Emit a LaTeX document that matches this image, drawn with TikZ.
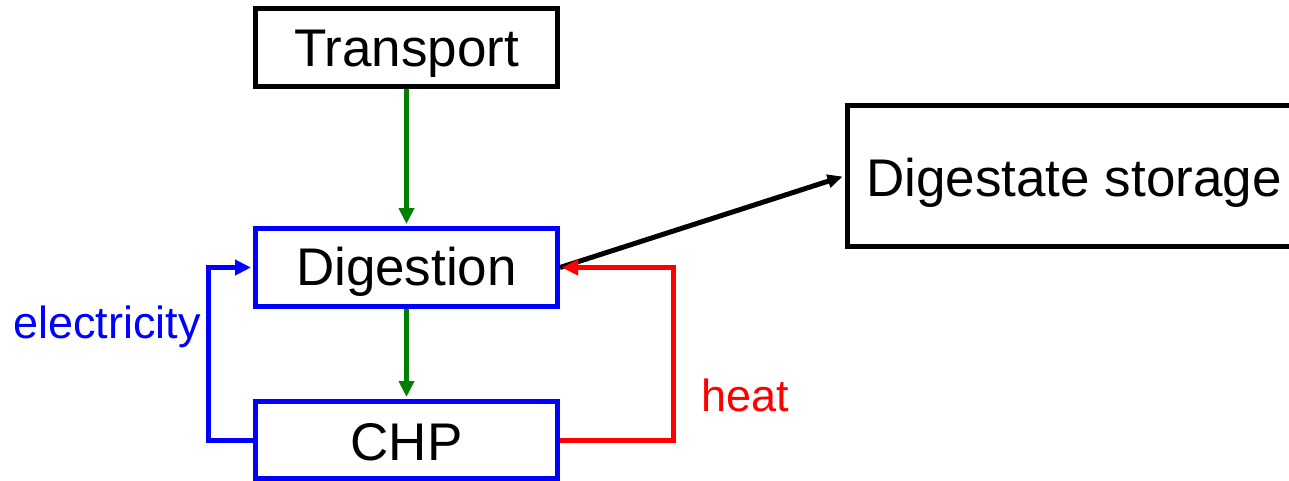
\documentclass[tikz,border=0pt]{standalone}
\usepackage{fontspec}
\setmainfont{Liberation Sans}
\usetikzlibrary{arrows.meta}
\definecolor{flowgreen}{RGB}{0,128,0}
\definecolor{loopblue}{RGB}{0,0,255}
\definecolor{loopred}{RGB}{255,0,0}
\tikzset{
  box/.style={draw, line width=5pt, inner sep=0pt, anchor=base,
    font=\fontsize{53}{60}\selectfont},
  flow/.style={line width=5pt, -{Triangle[length=16pt,width=15pt]}, shorten >=2pt},
  lbl/.style={inner sep=0pt, anchor=base west, font=\fontsize{45}{50}\selectfont}
}
\begin{document}
\begin{tikzpicture}[x=1pt,y=-1pt]
\clip (0,0) rectangle (1289,481);
\fill[white] (0,0) rectangle (1289,481);

% process boxes (text baseline given as position)
\node[box, minimum width=302pt, text height=58pt, text depth=19.5pt]
  (transport) at (406.5,67) {Transport};
\node[box, draw=loopblue, minimum width=302pt, text height=56.5pt, text depth=21.5pt]
  (digestion) at (406.5,285) {Digestion};
\node[box, draw=loopblue, minimum width=302pt, text height=59pt, text depth=18pt]
  (chp) at (406.5,460.5) {CHP};
\node[box, minimum width=454pt, text height=91pt, text depth=49.5pt]
  (storage) at (1074,196.7) {Digestate storage};

% material flow
\draw[flow, flowgreen] (transport.south) -- (digestion.north);
\draw[flow, flowgreen] (digestion.south) -- (chp.north);
\draw[flow, black, -{Triangle[length=15pt,width=13pt]}] (digestion.east) -- (storage.west);

% energy loops
\coordinate (elbow) at (208.5,440);
\coordinate (helbow) at (673.5,440);
\draw[flow, loopblue] (chp.west) -- (elbow) |- (digestion.west);
\draw[flow, loopred] (chp.east) -- (helbow) |- (digestion.east);

% loop labels
\node[lbl, text=loopblue] (elec) at (13,338) {electricity};
\node[lbl, text=loopred] (heat) at (701,411.7) {heat};
\end{tikzpicture}
\end{document}
